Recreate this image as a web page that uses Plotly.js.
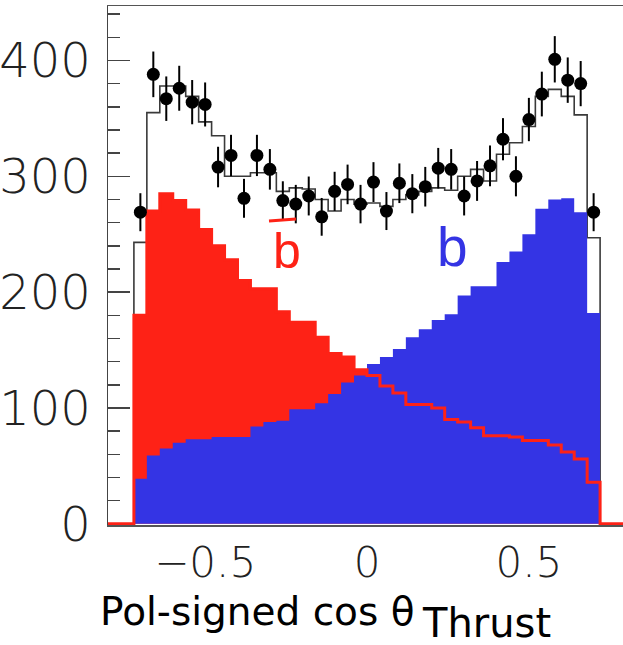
<!DOCTYPE html>
<html>
<head>
<meta charset="utf-8">
<script src="https://cdn.plot.ly/plotly-3.0.1.min.js"></script>
<style>
  html, body { margin: 0; padding: 0; background: #ffffff; overflow: hidden; }
  #chart { width: 640px; height: 645px; }
</style>
</head>
<body>
<div id="chart"></div>
<script>
// Bin centres of the polarisation-signed cos(theta_thrust) histogram (bin width 0.04)
const binCenters = [
  -0.70, -0.66, -0.62, -0.58, -0.54, -0.50, -0.46, -0.42, -0.38, -0.34, -0.30, -0.26,
  -0.22, -0.18, -0.14, -0.10, -0.06, -0.02,  0.02,  0.06,  0.10,  0.14,  0.18,  0.22,
   0.26,  0.30,  0.34,  0.38,  0.42,  0.46,  0.50,  0.54,  0.58,  0.62,  0.66,  0.70
];
const binWidth = 0.04;
const xRange = [-0.8, 0.8];

// Simulated b-bar quark contribution
const bbarCounts = [
  180, 270, 285, 279, 271, 254, 240, 228, 210, 203, 203, 183,
  174, 174, 161, 147, 144, 133, 128, 119, 113, 103, 103, 100,
   90,  88,  83,  76,  76,  75,  72,  72,  68,  62,  56,  36
];

// Simulated b quark contribution
const bCounts = [
   39,  59,  65,  70,  73,  73,  75,  75,  75,  84,  88,  89,
   99,  99, 104, 112, 122, 128, 138, 144, 151, 161, 168, 176,
  181, 197, 205, 205, 226, 235, 250, 272, 280, 281, 269, 182
];

// Total simulation
const mcTotal = [
  243, 355, 378, 378, 369, 347, 335, 300, 300, 303, 303, 287,
  290, 289, 280, 270, 280, 276, 277, 274, 280, 284, 287, 290,
  288, 300, 306, 296, 319, 329, 343, 369, 375, 369, 353, 247
];

// Data and statistical uncertainties
const dataCounts = [
  269, 388, 367, 376, 364, 362, 308, 318, 281, 318, 306, 279,
  276, 283, 265, 287, 293, 276, 295, 270, 294, 285, 291, 307,
  306, 283, 296, 309, 332, 300, 349, 371, 401, 383, 380, 269
];
const dataErrors = [
  16.4, 19.7, 19.2, 19.4, 19.1, 19.0, 17.5, 17.8, 16.8, 17.8, 17.5, 16.7,
  16.6, 16.8, 16.3, 16.9, 17.1, 16.6, 17.2, 16.4, 17.1, 16.9, 17.1, 17.5,
  17.5, 16.8, 17.2, 17.6, 18.2, 17.3, 18.7, 19.3, 20.0, 19.6, 19.5, 16.4
];

const yTickVals = [0, 100, 200, 300, 400];
const xTickVals = [-0.5, 0, 0.5];
const xTickText = ['\u22120.5', '0', '0.5'];

const RED = '#fe2216';
const BLUE = '#3434e4';
const FONT = 'DejaVu Sans, Liberation Sans, sans-serif';
const HAND = 'Liberation Sans, Arial, sans-serif';

// Turn per-bin contents into a step outline that returns to zero outside the binned range
function stepOutline(counts) {
  const half = binWidth / 2;
  const xs = [xRange[0]];
  const ys = [0];
  binCenters.forEach((c, i) => { xs.push(c - half); ys.push(counts[i]); });
  xs.push(binCenters[binCenters.length - 1] + half); ys.push(0);
  xs.push(xRange[1]); ys.push(0);
  return { x: xs, y: ys };
}

const mcStep = stepOutline(mcTotal);
const bbarStep = stepOutline(bbarCounts);
const bStep = stepOutline(bCounts);

const traces = [
  { // total simulation outline
    type: 'scatter', mode: 'lines', x: mcStep.x, y: mcStep.y,
    line: { shape: 'hv', color: '#3a3a3a', width: 1.6 }, hoverinfo: 'skip'
  },
  { // b-bar filled
    type: 'scatter', mode: 'lines', x: bbarStep.x, y: bbarStep.y,
    line: { shape: 'hv', color: RED, width: 0 }, fill: 'tozeroy', fillcolor: RED, hoverinfo: 'skip'
  },
  { // b filled
    type: 'scatter', mode: 'lines', x: bStep.x, y: bStep.y,
    line: { shape: 'hv', color: BLUE, width: 0 }, fill: 'tozeroy', fillcolor: BLUE, hoverinfo: 'skip'
  },
  { // b-bar outline on top
    type: 'scatter', mode: 'lines', x: bbarStep.x, y: bbarStep.y,
    line: { shape: 'hv', color: RED, width: 3 }, hoverinfo: 'skip'
  },
  { // data points
    type: 'scatter', mode: 'markers', x: binCenters, y: dataCounts,
    marker: { color: '#000000', size: 13 },
    error_y: { type: 'data', array: dataErrors, visible: true, color: '#000000', thickness: 2, width: 0 },
    cliponaxis: false
  }
];

// Plot area: 108..626 px horizontally, 6..525 px vertically
const L = 108, R = 640 - 626, T = 6, B = 645 - 525;
const plotW = 640 - L - R, plotH = 645 - T - B;
const px = (x) => (x - L) / plotW;
const py = (y) => (645 - B - y) / plotH;

const layout = {
  width: 640, height: 645,
  margin: { l: L, r: R, t: T, b: B, pad: 0 },
  paper_bgcolor: '#ffffff', plot_bgcolor: '#ffffff',
  showlegend: false,
  font: { family: FONT, color: '#1a1a1a' },
  xaxis: {
    range: xRange, showgrid: false, zeroline: false,
    showline: true, linecolor: '#555555', linewidth: 1.5, mirror: true,
    ticks: '', tickmode: 'array', tickvals: xTickVals, ticktext: xTickText,
    tickfont: { size: 42, family: FONT, color: '#222222', weight: 200 },
    ticklabelstandoff: 0, layer: 'below traces'
  },
  yaxis: {
    range: [-1, 447], showgrid: false, zeroline: false,
    showline: true, linecolor: '#444444', linewidth: 1.5, mirror: true,
    ticks: 'inside', ticklen: 22, tickwidth: 1.5, tickcolor: '#444444',
    tickmode: 'array', tickvals: yTickVals,
    minor: { tick0: 0, dtick: 20, ticks: 'inside', ticklen: 12, tickwidth: 1.5, tickcolor: '#444444' },
    tickfont: { size: 48, family: FONT, color: '#222222', weight: 200 },
    ticklabelstandoff: 6, layer: 'below traces'
  },
  annotations: [
    { xref: 'paper', yref: 'paper', x: px(98), y: py(611), xanchor: 'left', yanchor: 'middle',
      text: 'Pol-signed cos \u03b8', showarrow: false,
      font: { size: 39, family: FONT, color: '#000000' } },
    { xref: 'paper', yref: 'paper', x: px(420), y: py(645), xanchor: 'left', yanchor: 'bottom',
      yshift: -3, text: 'Thrust', showarrow: false,
      font: { size: 40, family: FONT, color: '#000000' } },
    { xref: 'paper', yref: 'paper', x: px(287), y: py(251), xanchor: 'center', yanchor: 'middle',
      text: 'b', showarrow: false,
      font: { size: 50, family: HAND, color: RED } },
    { xref: 'paper', yref: 'paper', x: px(452), y: py(247), xanchor: 'center', yanchor: 'middle',
      text: 'b', showarrow: false,
      font: { size: 55, family: HAND, color: BLUE } }
  ],
  shapes: [
    { type: 'line', xref: 'paper', yref: 'paper', x0: px(269), x1: px(296), y0: py(221), y1: py(219),
      line: { color: RED, width: 3 } }
  ]
};

Plotly.newPlot('chart', traces, layout, { staticPlot: true, displayModeBar: false });
</script>
</body>
</html>
